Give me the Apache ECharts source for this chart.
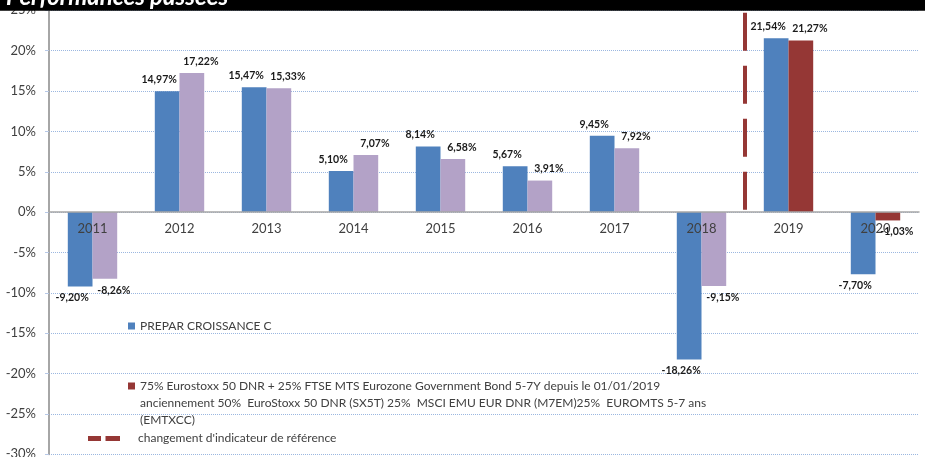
<!DOCTYPE html>
<html>
<head>
<meta charset="utf-8">
<script src="https://cdn.jsdelivr.net/npm/echarts@6/dist/echarts.min.js"></script>
<style>
  html, body { margin: 0; padding: 0; background: #fff; }
  #chart { width: 925px; height: 457px; }
</style>
</head>
<body>
<div id="chart"></div>
<script>
// data
const years = ['2011', '2012', '2013', '2014', '2015', '2016', '2017', '2018', '2019', '2020'];
const fundValues = [-9.20, 14.97, 15.47, 5.10, 8.14, 5.67, 9.45, -18.26, 21.54, -7.70];
const benchValues = [-8.26, 17.22, 15.33, 7.07, 6.58, 3.91, 7.92, -9.15, 21.27, -1.03];
const benchChangeIndex = 8;          // new benchmark from 2019 on
const changeLineSpan = [24.7, 0];    // dashed marker, top -> zero
const yRange = [-30, 25];
const yStep = 5;

const fundName = 'PREPAR CROISSANCE C';
const benchName = 'benchmark';
const benchLines = [
    '75% Eurostoxx 50 DNR + 25% FTSE MTS Eurozone Government Bond 5-7Y depuis le 01/01/2019',
    'anciennement 50%  EuroStoxx 50 DNR (SX5T) 25%  MSCI EMU EUR DNR (M7EM)25%  EUROMTS 5-7 ans',
    '(EMTXCC)'
];
const changeName = "changement d'indicateur de référence";
const title = 'Performances passées';

const BLUE = '#4f81bd';
const LAVENDER = '#b3a2c7';
const RED = '#953735';
const FONT = 'Lato';
const TEXT = '#404040';

const GRID = { left: 49, right: 6, top: 10.3, bottom: 2.7 };
const gridHeight = 457 - GRID.top - GRID.bottom;
// lift the category axis from the grid bottom up to the 0% line
const zeroLift = (0 - yRange[0]) / (yRange[1] - yRange[0]) * gridHeight;

function pct(v) {
    return v.toFixed(2).replace('.', ',') + '%';
}

function barLabel(v, dx) {
    return {
        show: true,
        position: v >= 0 ? 'top' : 'bottom',
        distance: 6,
        offset: [dx, 0],
        formatter: pct(v),
        fontFamily: FONT,
        fontWeight: 'bold',
        fontSize: 10.5,
        color: '#1a1a1a'
    };
}

const fundData = fundValues.map(v => ({ value: v, label: barLabel(v, -8) }));
const benchData = benchValues.map((v, i) => ({
    value: v,
    itemStyle: { color: i >= benchChangeIndex ? RED : LAVENDER },
    label: barLabel(v, 9)
}));
const changeData = changeLineSpan.map(y => [benchChangeIndex, y]);

const legendText = { fontFamily: FONT, fontSize: 12, color: TEXT, lineHeight: 17 };

const chart = echarts.init(document.getElementById('chart'));
chart.setOption({
    animation: false,
    grid: Object.assign({ outerBoundsMode: 'none' }, GRID),
    xAxis: [{
        type: 'category',
        data: years,
        z: 3,
        offset: -zeroLift,
        axisLine: { onZero: false, lineStyle: { color: '#a6a6a6', width: 1.5 } },
        axisTick: { length: 4, lineStyle: { color: '#a6a6a6' } },
        axisLabel: { margin: 10, fontFamily: FONT, fontSize: 13, color: TEXT }
    }, {
        type: 'value',
        min: 0,
        max: years.length,
        show: false
    }],
    yAxis: {
        type: 'value',
        min: yRange[0],
        max: yRange[1],
        interval: yStep,
        axisLine: { show: true, onZero: false, lineStyle: { color: '#a6a6a6', width: 2 } },
        axisTick: { show: true, length: 4, lineStyle: { color: '#b7c8e6' } },
        axisLabel: { margin: 13, formatter: '{value}%', fontFamily: FONT, fontSize: 13, color: TEXT },
        splitLine: { lineStyle: { color: '#9bb7e0', type: 'dotted', width: 1 } }
    },
    legend: [{
        data: [fundName],
        left: 128, top: 317.5, padding: 0,
        icon: 'rect', itemWidth: 7, itemHeight: 7,
        textStyle: legendText
    }, {
        data: [benchName],
        left: 128, top: 343.5, padding: 0,
        icon: 'rect', itemWidth: 7, itemHeight: 7,
        // two empty lines on top so the square sits on the first text line
        formatter: () => '\n\n' + benchLines.join('\n'),
        textStyle: legendText
    }, {
        data: [changeName],
        left: 88, top: 430, padding: 0,
        icon: 'path://M0 0H13V5H0Z M17.5 0H32V5H17.5Z', itemWidth: 32, itemHeight: 5,
        textStyle: Object.assign({}, legendText, { padding: [0, 0, 0, 13] })
    }],
    series: [{
        name: fundName,
        type: 'bar',
        data: fundData,
        barWidth: 24.7,
        barGap: '0%',
        itemStyle: { color: BLUE }
    }, {
        name: benchName,
        type: 'bar',
        data: benchData,
        barWidth: 24.7,
        barGap: '0%',
        itemStyle: { color: RED }
    }, {
        name: changeName,
        type: 'line',
        xAxisIndex: 1,
        data: changeData,
        symbol: 'none',
        itemStyle: { color: RED },
        lineStyle: { color: RED, width: 4, type: [38, 15], cap: 'butt' }
    }],
    graphic: [{
        type: 'rect',
        z: 100,
        shape: { x: 0, y: 0, width: 925, height: 10.7 },
        style: { fill: '#000' }
    }, {
        type: 'text',
        z: 101,
        x: 6,
        y: -3,
        style: {
            text: title,
            fill: '#fff',
            font: 'italic bold 24px Lato',
            verticalAlign: 'middle'
        }
    }]
});
</script>
</body>
</html>
